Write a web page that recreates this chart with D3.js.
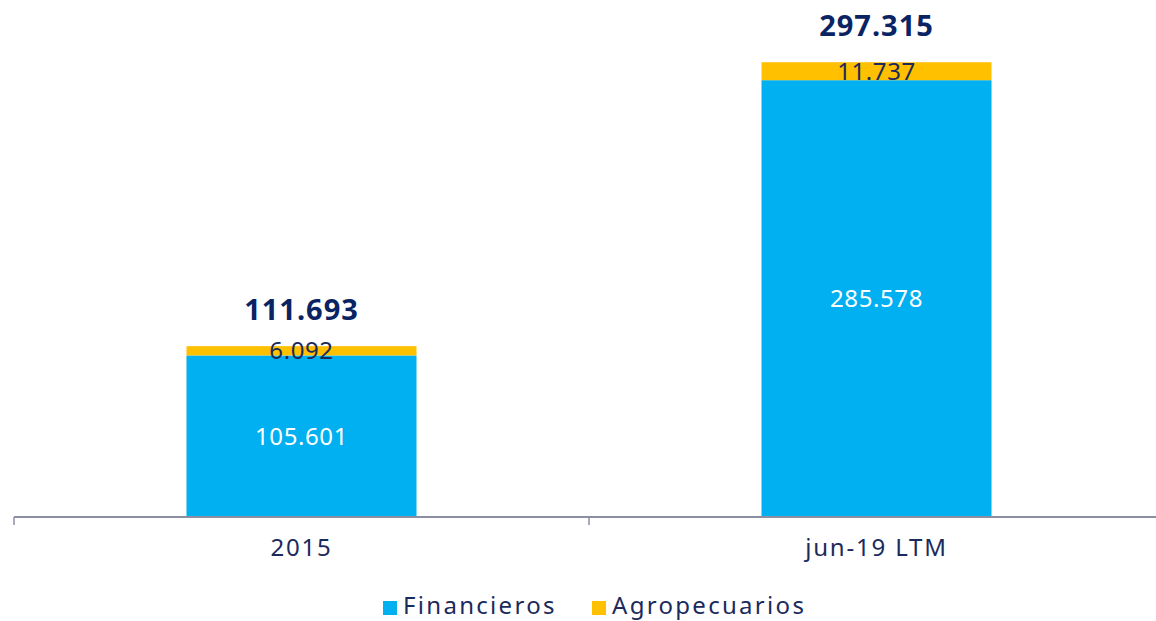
<!DOCTYPE html>
<html>
<head>
<meta charset="utf-8">
<script src="https://cdn.jsdelivr.net/npm/d3@7"></script>
<style>
  body { margin: 0; background: #fff; }
  text { font-family: "Noto Sans", sans-serif; }
</style>
</head>
<body>
<svg id="chart" width="1156" height="621"></svg>
<script>
var categories = ["2015", "jun-19 LTM"];
var financieros = [105.601, 285.578];
var agropecuarios = [6.092, 11.737];
var totals = [111.693, 297.315];
var seriesNames = ["Financieros", "Agropecuarios"];
var colors = ["#00B0F0", "#FFC000"];

var fmt = function(v) { return v.toFixed(3); };

var svg = d3.select("#chart"),
    width = +svg.attr("width"),
    height = +svg.attr("height");

var x = d3.scaleBand().domain(categories).range([14, 1164]).padding(0);
var y = d3.scaleLinear().domain([0, 338]).range([517, 0]);
var barW = x.bandwidth() * 0.4;

var data = categories.map(function(c, i) {
  return { cat: c, Financieros: financieros[i], Agropecuarios: agropecuarios[i], total: totals[i] };
});

var stack = d3.stack().keys(seriesNames);
var layers = stack(data);

/* barras */
var layer = svg.selectAll(".layer")
    .data(layers)
    .enter().append("g")
    .attr("class", "layer")
    .attr("fill", function(d, i) { return colors[i]; });

layer.selectAll("rect")
    .data(function(d) { return d; })
    .enter().append("rect")
    .attr("x", function(d) { return x(d.data.cat) + (x.bandwidth() - barW) / 2; })
    .attr("width", barW)
    .attr("y", function(d) { return y(d[1]); })
    .attr("height", function(d) { return y(d[0]) - y(d[1]); });

/* eje */
var axis = svg.append("g")
    .attr("transform", "translate(0," + y(0) + ")")
    .call(d3.axisBottom(x).tickSize(0).tickPadding(22));
axis.select(".domain").remove();
axis.append("line")
    .attr("x1", 14).attr("x2", width)
    .attr("stroke", "#8C8FA1").attr("stroke-width", 2);
axis.selectAll(".sep")
    .data([14, x.range()[0] + x.step()])
    .enter().append("line")
    .attr("x1", function(d) { return d; }).attr("x2", function(d) { return d; })
    .attr("y1", 0).attr("y2", 8)
    .attr("stroke", "#8C8FA1").attr("stroke-width", 1.5);
axis.selectAll(".tick text")
    .attr("fill", "#1B2A5C")
    .attr("font-size", 24)
    .attr("letter-spacing", "1.8px")
    .attr("font-family", "Noto Sans, sans-serif");

/* etiquetas en barras */
layer.selectAll(".lbl")
    .data(function(d) { return d; })
    .enter().append("text")
    .attr("x", function(d) { return x(d.data.cat) + x.bandwidth() / 2; })
    .attr("y", function(d) { return (y(d[0]) + y(d[1])) / 2; })
    .attr("dy", "0.35em")
    .attr("text-anchor", "middle")
    .attr("font-size", 24)
    .attr("letter-spacing", "0.6px")
    .attr("fill", function(d) { return d3.select(this.parentNode).datum().key === "Financieros" ? "#FFFFFF" : "#1B2A5C"; })
    .text(function(d) { return fmt(d[1] - d[0]); });

/* totales */
svg.selectAll(".total")
    .data(data)
    .enter().append("text")
    .attr("x", function(d) { return x(d.cat) + x.bandwidth() / 2; })
    .attr("y", function(d) { return y(d.total) - 26; })
    .attr("text-anchor", "middle")
    .attr("font-size", 29)
    .attr("font-weight", "bold")
    .attr("letter-spacing", "1px")
    .attr("fill", "#0A2463")
    .text(function(d) { return fmt(d.total); });

/* leyenda */
var legend = svg.append("g");
var legX = [383, 592];
seriesNames.forEach(function(s, i) {
  legend.append("rect")
      .attr("x", legX[i]).attr("y", 601)
      .attr("width", 14).attr("height", 14)
      .attr("fill", colors[i]);
  legend.append("text")
      .attr("x", legX[i] + 20).attr("y", 614)
      .attr("font-size", 24)
      .attr("letter-spacing", "2.3px")
      .attr("fill", "#1B2A5C")
      .text(s);
});
</script>
</body>
</html>
